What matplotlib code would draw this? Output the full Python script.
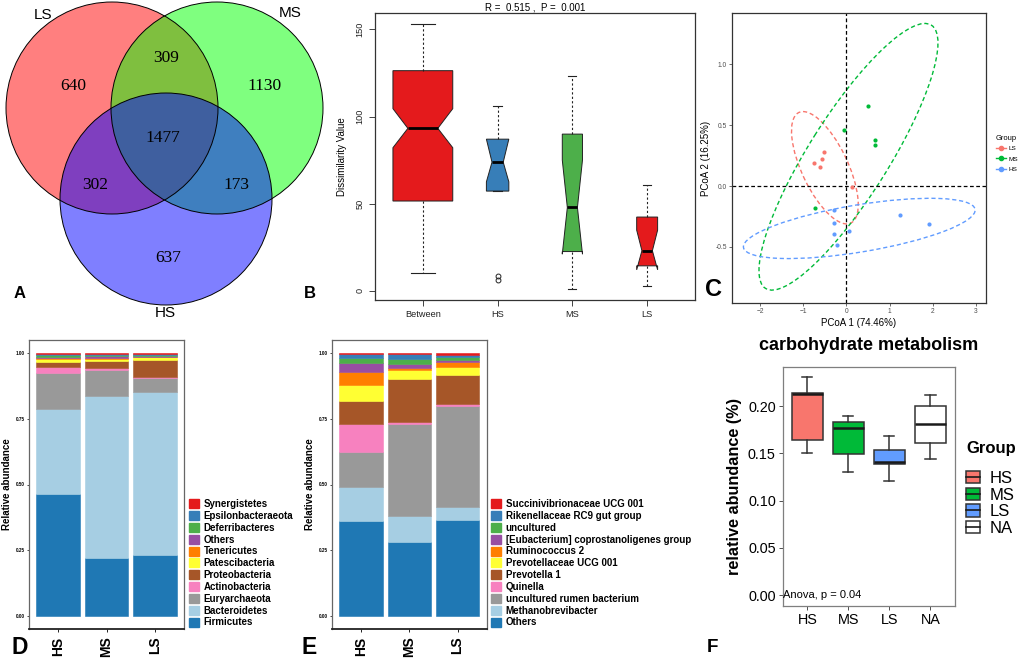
import numpy as np
import matplotlib
matplotlib.use("Agg")
import matplotlib.pyplot as plt
from matplotlib.patches import Circle, Patch
from matplotlib.lines import Line2D
from matplotlib.transforms import Affine2D

plt.rcParams['font.family'] = ['Liberation Sans', 'DejaVu Sans']

W, H = 1021, 663

# ---------------- data ----------------
# A: venn
venn_sets = ['LS', 'MS', 'HS']
venn_regions = ['LS', 'MS', 'HS', 'LS&MS', 'LS&HS', 'MS&HS', 'LS&MS&HS']
venn_counts = [640, 1130, 637, 309, 302, 173, 1477]

# B: anosim boxes
b_groups = ['Between', 'HS', 'MS', 'LS']
b_whislo = [10, 57, 0.8, 2.7]
b_q1 = [51.5, 57.2, 22.5, 14.3]
b_cilo = [82.1, 62.5, 21.0, 12.0]
b_med = [93.2, 73.8, 47.8, 23.0]
b_cihi = [104.5, 87.0, 75.0, 34.8]
b_q3 = [126.3, 87.0, 89.9, 42.3]
b_whishi = [153, 106, 123, 60.5]
b_fliers = [[], [8.5, 6.0], [], []]
b_colors = ['#E41A1C', '#377EB8', '#4DAF4A', '#E41A1C']

# C: PCoA
c_groups = ['LS', 'MS', 'HS']
c_colors = ['#F8766D', '#00BA38', '#619CFF']
c_x = [[-0.52, -0.56, -0.75, -0.62, 0.12],
       [0.49, -0.05, 0.65, 0.66, -0.73],
       [-0.30, -0.30, -0.30, -0.22, 0.05, 1.23, 1.90]]
c_y = [[0.28, 0.22, 0.19, 0.16, -0.01],
       [0.66, 0.46, 0.38, 0.34, -0.18],
       [-0.20, -0.30, -0.39, -0.48, -0.37, -0.24, -0.31]]
# ellipse: centre, major half-vector, conjugate half-vector (data units)
ell_center = [(-0.50, 0.15), (0.046, 0.24), (0.297, -0.348)]
ell_major = [(-0.62, 0.45), (1.92, 1.08), (2.681, 0.157)]
ell_minor = [(0.46, 0.10), (0.78, -0.176), (0.09, -0.191)]

# D: phylum
samples = ['HS', 'MS', 'LS']
phyla = ['Firmicutes', 'Bacteroidetes', 'Euryarchaeota', 'Actinobacteria',
         'Proteobacteria', 'Patescibacteria', 'Tenericutes', 'Others',
         'Deferribacteres', 'Epsilonbacteraeota', 'Synergistetes']
phyla_ab = [[0.463, 0.221, 0.230],
            [0.325, 0.614, 0.621],
            [0.135, 0.101, 0.053],
            [0.025, 0.007, 0.005],
            [0.019, 0.027, 0.066],
            [0.010, 0.009, 0.009],
            [0.005, 0.003, 0.003],
            [0.005, 0.008, 0.003],
            [0.005, 0.004, 0.004],
            [0.004, 0.003, 0.003],
            [0.004, 0.003, 0.003]]

# E: genus
genera = ['Others', 'Methanobrevibacter', 'uncultured rumen bacterium', 'Quinella',
          'Prevotella 1', 'Prevotellaceae UCG 001', 'Ruminococcus 2',
          '[Eubacterium] coprostanoligenes group', 'uncultured',
          'Rikenellaceae RC9 gut group', 'Succinivibrionaceae UCG 001']
genera_ab = [[0.362, 0.283, 0.363],
             [0.130, 0.099, 0.053],
             [0.131, 0.350, 0.382],
             [0.109, 0.007, 0.009],
             [0.087, 0.163, 0.109],
             [0.060, 0.033, 0.033],
             [0.050, 0.009, 0.017],
             [0.032, 0.015, 0.009],
             [0.021, 0.017, 0.010],
             [0.013, 0.020, 0.009],
             [0.005, 0.004, 0.006]]
stack_colors = ['#1F78B4', '#A6CEE3', '#999999', '#F781BF', '#A65628', '#FFFF33',
                '#FF7F00', '#984EA3', '#4DAF4A', '#377EB8', '#E41A1C']

# F: carbohydrate metabolism
f_groups = ['HS', 'MS', 'LS', 'NA']
f_whislo = [0.150, 0.1306, 0.1204, 0.1443]
f_q1 = [0.1647, 0.1496, 0.1383, 0.1609]
f_med = [0.213, 0.1774, 0.1408, 0.1813]
f_q3 = [0.2135, 0.183, 0.1535, 0.2003]
f_whishi = [0.2305, 0.1897, 0.1686, 0.2119]
f_colors = ['#F8766D', '#00BA38', '#619CFF', 'white']


def rect(l, t, r, b):
    return [l / W, 1 - b / H, (r - l) / W, (b - t) / H]


def ftext(x, y, s, **kw):
    fig.text(x / W, 1 - y / H, s, **kw)


fig = plt.figure(figsize=(W / 100, H / 100), dpi=100)

# ---------------- A ----------------
axA = fig.add_axes(rect(0, 0, 340, 325))
axA.set_xlim(0, 340)
axA.set_ylim(325, 0)
axA.axis('off')
centers = [(112, 108), (217, 108), (166, 199)]
for c, col in zip(centers, ['red', 'lime', 'blue']):
    axA.add_patch(Circle(c, 106, facecolor=col, alpha=0.5, edgecolor='none'))
for c in centers:
    axA.add_patch(Circle(c, 106, fill=False, edgecolor='black', lw=0.7))
lab_pos = [(73, 86), (265, 86), (168, 258), (166, 58), (95, 185), (236, 185), (163, 138)]
for (x, y), n in zip(lab_pos, venn_counts):
    axA.text(x, y, str(n), ha='center', va='center', fontsize=12.5, family='Liberation Serif')
for (x, y), s in zip([(43, 15), (290, 13), (165, 313)], venn_sets):
    axA.text(x, y, s, ha='center', va='center', fontsize=11)

# ---------------- B ----------------
axB = fig.add_axes(rect(375, 13, 695, 300))
stats = []
for i, g in enumerate(b_groups):
    stats.append(dict(label=g, med=b_med[i], q1=b_q1[i], q3=b_q3[i], whislo=b_whislo[i],
                      whishi=b_whishi[i], cilo=b_cilo[i], cihi=b_cihi[i], fliers=b_fliers[i]))
bw = [0.8, 0.3, 0.27, 0.28]
bp = axB.bxp(stats, positions=[1, 2, 3, 4], widths=bw, capwidths=[w * 0.4 for w in bw],
             shownotches=True, patch_artist=True,
             boxprops=dict(edgecolor='#222222', lw=0.7),
             medianprops=dict(color='black', lw=2),
             whiskerprops=dict(color='#222222', lw=0.8, ls=(0, (2, 2))),
             capprops=dict(color='#222222', lw=0.8),
             flierprops=dict(marker='o', mfc='none', mec='#222222', ms=3.5, mew=0.7))
for patch, col in zip(bp['boxes'], b_colors):
    patch.set_facecolor(col)
axB.set_xlim(0.36, 4.64)
axB.set_ylim(-5.3, 159.4)
axB.set_yticks([0, 50, 100, 150])
axB.tick_params(labelsize=6.6, length=4, width=0.6, colors='#222222')
for lab in axB.get_yticklabels():
    lab.set_rotation(90)
    lab.set_va('center')
axB.set_ylabel('Dissimilarity Value', fontsize=7, labelpad=6)
axB.set_title('R =  0.515 ,  P =  0.001', fontsize=7, pad=2)
for s in axB.spines.values():
    s.set_color('#333333')
    s.set_lw(0.9)

# ---------------- C ----------------
axC = fig.add_axes(rect(732, 13, 986, 303))
for i, g in enumerate(c_groups):
    axC.scatter(c_x[i], c_y[i], s=9, color=c_colors[i], zorder=3, lw=0)
    (cx, cy), (mx, my), (nx, ny) = ell_center[i], ell_major[i], ell_minor[i]
    tr = Affine2D(np.array([[mx, nx, cx], [my, ny, cy], [0, 0, 1]])) + axC.transData
    axC.add_patch(Circle((0, 0), 1, transform=tr, fill=False, ec=c_colors[i], lw=1,
                         ls=(0, (3, 2))))
axC.axhline(0, color='black', lw=0.9, ls=(0, (3, 2)))
axC.axvline(0, color='black', lw=0.9, ls=(0, (3, 2)))
axC.set_xlim(-2.65, 3.23)
axC.set_ylim(-0.96, 1.42)
axC.set_xticks([-2, -1, 0, 1, 2, 3])
axC.set_yticks([-0.5, 0.0, 0.5, 1.0])
axC.set_yticklabels(['-0.5', '0.0', '0.5', '1.0'])
axC.tick_params(labelsize=4.8, length=2, width=0.5, colors='#333333', labelcolor='#4D4D4D', pad=1.5)
axC.set_xlabel('PCoA 1 (74.46%)', fontsize=7, labelpad=2)
axC.set_ylabel('PCoA 2 (16.25%)', fontsize=7, labelpad=3)
for s in axC.spines.values():
    s.set_color('#333333')
    s.set_lw(0.9)
ftext(996, 139, 'Group', fontsize=5.4, ha='left', va='center')
hC = [Line2D([0], [0], color=c, marker='o', ms=3, lw=1) for c in c_colors]
fig.legend(hC, c_groups, loc='upper left', bbox_to_anchor=(996 / W, 1 - 146 / H),
           frameon=False, fontsize=4.6, handlelength=1.5, handletextpad=0.5,
           labelspacing=0.75, borderpad=0, borderaxespad=0)


# ---------------- D / E ----------------
def stacked(ax, names, ab, leg_x):
    x = np.arange(1, len(samples) + 1)
    bottom = np.zeros(len(samples))
    handles = []
    for name, vals, col in zip(names, ab, stack_colors):
        ax.bar(x, vals, bottom=bottom, width=0.9, color=col, edgecolor=col, lw=0.4)
        bottom += np.array(vals)
        handles.append(Patch(facecolor=col, edgecolor=col))
    ax.set_xlim(0.4, 3.6)
    ax.set_ylim(-0.05, 1.05)
    ax.set_xticks(x)
    ax.set_xticklabels(samples, rotation=90, fontsize=10, fontweight='bold')
    ax.set_yticks([0, 0.25, 0.5, 0.75, 1.0])
    ax.set_yticklabels(['0.00', '0.25', '0.50', '0.75', '1.00'], fontsize=3.3, fontweight='bold')
    ax.tick_params(axis='y', length=1.5, width=0.5, pad=1.5)
    ax.tick_params(axis='x', length=2, width=0.6, pad=3.5)
    ax.set_ylabel('Relative abundance', fontsize=7, fontweight='bold', labelpad=3)
    for s in ax.spines.values():
        s.set_color('#666666')
        s.set_lw(0.9)
    ax.spines['bottom'].set_color('#222222')
    ax.spines['bottom'].set_lw(1.3)
    fig.legend(handles[::-1], names[::-1], loc='upper left', bbox_to_anchor=(leg_x / W, 1 - 499 / H),
               frameon=False, prop=dict(size=7, weight='bold'), handlelength=1.05,
               handleheight=1.05, handletextpad=0.45, labelspacing=0.19, borderpad=0,
               borderaxespad=0)


axD = fig.add_axes(rect(29, 340, 184, 629))
stacked(axD, phyla, phyla_ab, 189)
axE = fig.add_axes(rect(332, 340, 486.5, 629))
stacked(axE, genera, genera_ab, 491)

# ---------------- F ----------------
axF = fig.add_axes(rect(782.7, 366.7, 955, 606))
fstats = []
for i, g in enumerate(f_groups):
    fstats.append(dict(label=g, med=f_med[i], q1=f_q1[i], q3=f_q3[i], whislo=f_whislo[i],
                       whishi=f_whishi[i], fliers=[]))
bpf = axF.bxp(fstats, positions=[1, 2, 3, 4], widths=0.75, capwidths=0.25, patch_artist=True,
              boxprops=dict(edgecolor='#333333', lw=1.1),
              medianprops=dict(color='#1a1a1a', lw=1.8),
              whiskerprops=dict(color='#333333', lw=1.1),
              capprops=dict(color='#333333', lw=1.1))
for patch, col in zip(bpf['boxes'], f_colors):
    patch.set_facecolor(col)
axF.set_xlim(0.4, 4.6)
axF.set_ylim(-0.0116, 0.2418)
axF.set_yticks([0, 0.05, 0.10, 0.15, 0.20])
axF.set_yticklabels(['0.00', '0.05', '0.10', '0.15', '0.20'])
axF.tick_params(labelsize=10.4, length=3, width=0.6, colors='#333333', labelcolor='black', pad=2)
axF.set_ylabel('relative abundance (%)', fontsize=11.7, fontweight='bold', labelpad=4)
axF.set_title('carbohydrate metabolism', fontsize=13, fontweight='bold', pad=12)
axF.text(0.4, 0.0, 'Anova, p = 0.04', fontsize=8, va='center', ha='left')
for s in axF.spines.values():
    s.set_color('#7F7F7F')
    s.set_lw(0.9)
ftext(966, 448, 'Group', fontsize=12, fontweight='bold', ha='left', va='center')
hF = [(Patch(facecolor=c, edgecolor='#333333', lw=1.1), Line2D([0], [0], color='#1a1a1a', lw=1.2))
      for c in f_colors]
fig.legend(hF, f_groups, loc='upper left', bbox_to_anchor=(966 / W, 1 - 471 / H),
           frameon=False, fontsize=12, handlelength=0.85, handleheight=0.75,
           handletextpad=0.55, labelspacing=0.1, borderpad=0, borderaxespad=0)

# panel letters
for x, y, s, fs in [(20, 293, 'A', 12), (310, 293, 'B', 12), (713, 290, 'C', 17),
                    (20, 647, 'D', 16.5), (309, 647, 'E', 16.5), (712, 647, 'F', 13.5)]:
    ftext(x, y, s, fontsize=fs, fontweight='bold', ha='center', va='center')

fig.savefig('out.png', dpi=100)
